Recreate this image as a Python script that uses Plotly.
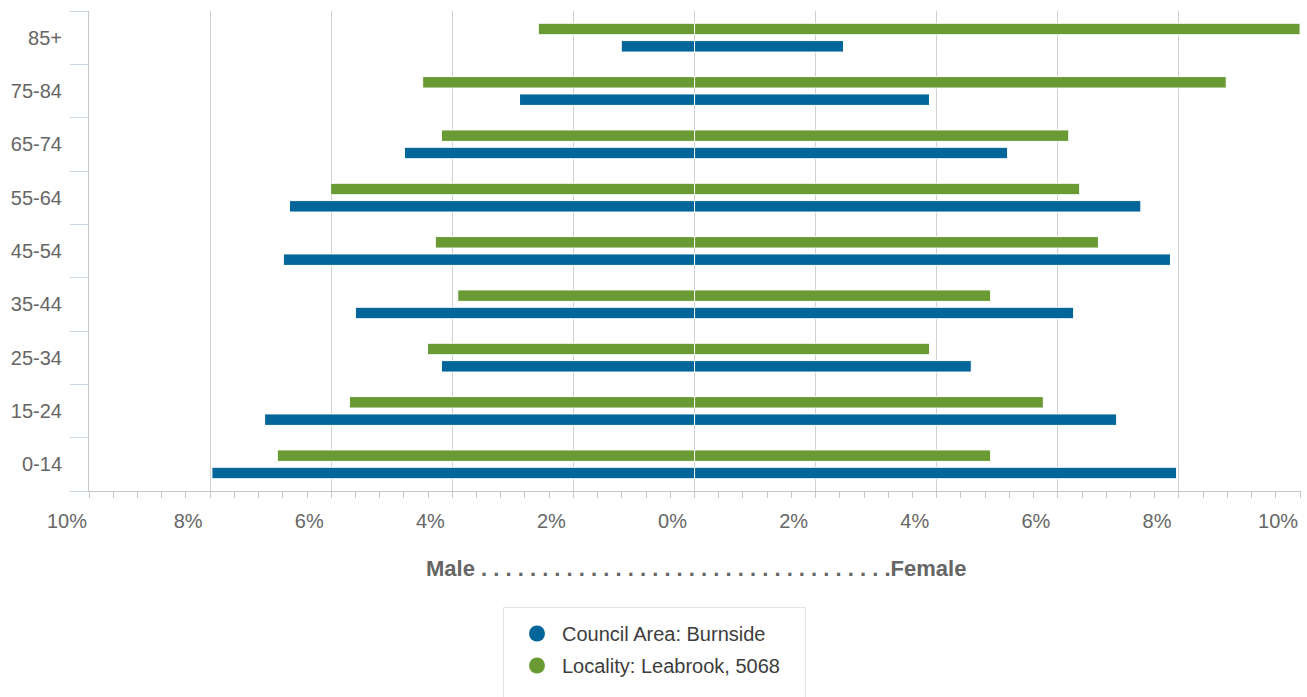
import plotly.graph_objects as go

# ---- data (percent of population) ----
age_groups = ["0-14", "15-24", "25-34", "35-44", "45-54", "55-64", "65-74", "75-84", "85+"]
council_male = [7.97, 7.10, 4.18, 5.60, 6.79, 6.69, 4.79, 2.89, 1.21]
council_female = [7.96, 6.97, 4.57, 6.26, 7.86, 7.37, 5.17, 3.88, 2.46]
locality_male = [6.89, 5.70, 4.41, 3.91, 4.28, 6.01, 4.18, 4.49, 2.58]
locality_female = [4.89, 5.76, 3.88, 4.89, 6.67, 6.36, 6.18, 8.78, 10.0]
series_names = ["Council Area: Burnside", "Locality: Leabrook, 5068"]
tick_values = [-10, -8, -6, -4, -2, 0, 2, 4, 6, 8, 10]
tick_labels = ["10%", "8%", "6%", "4%", "2%", "0%", "2%", "4%", "6%", "8%", "10%"]
axis_title = "Male " + ". " * 33 + ".Female"

BLUE = "#02669a"
GREEN = "#6a9a34"
FONT = "Liberation Sans, Arial, sans-serif"

W, H = 1307, 697
L, R, T, B = 89, 6, 11, 206
PW, PH = W - L - R, H - T - B


def px_to_paper_x(px):
    return (px - L) / PW


def px_to_paper_y(py):
    return (H - B - py) / PH


fig = go.Figure()

series = [
    (series_names[1], locality_male, locality_female, GREEN, 0.055),
    (series_names[0], council_male, council_female, BLUE, -0.27),
]
for name, male, female, color, off in series:
    fig.add_trace(go.Bar(
        y=age_groups, x=[-v for v in male], orientation="h", name=name,
        marker=dict(color=color, line=dict(color="white", width=1)),
        width=0.215, offset=off, showlegend=False, hoverinfo="skip",
    ))
    fig.add_trace(go.Bar(
        y=age_groups, x=female, orientation="h", name=name,
        marker=dict(color=color, line=dict(color="white", width=1)),
        width=0.215, offset=off, showlegend=False, hoverinfo="skip",
    ))

# legend entries (circle symbols)
for i, (name, color) in enumerate([(series_names[0], BLUE), (series_names[1], GREEN)]):
    fig.add_trace(go.Scatter(
        x=[None], y=[None], mode="markers", name=name, legendgroup=f"g{i}",
        marker=dict(color=color, size=16, symbol="circle"), showlegend=True,
    ))

fig.update_layout(
    width=W, height=H,
    margin=dict(l=L, r=R, t=T, b=B),
    paper_bgcolor="white", plot_bgcolor="white",
    barmode="overlay",
    font=dict(family=FONT, color="#666666", size=20),
    showlegend=True,
    legend=dict(
        x=px_to_paper_x(512), y=px_to_paper_y(614), xanchor="left", yanchor="top",
        bgcolor="rgba(0,0,0,0)", borderwidth=0, itemwidth=40,
        font=dict(family=FONT, size=20, color="#3d3d3d"),
        tracegroupgap=3, traceorder="grouped",
    ),
    xaxis=dict(
        range=[-10, 10.015],
        tickmode="array", tickvals=tick_values, ticktext=tick_labels,
        ticks="outside", ticklen=6, tickcolor="#c6c6c6", tickwidth=1,
        showline=True, linecolor="#c6c6c6", linewidth=1,
        showgrid=True, gridcolor="#d0d0d0", gridwidth=1,
        zeroline=False,
        minor=dict(tick0=-10, dtick=0.4, ticks="outside", ticklen=6,
                   tickcolor="#c6c6c6", tickwidth=1, showgrid=False),
        tickfont=dict(family=FONT, size=20, color="#666666"),
        ticklabelshift=-22, ticklabelstandoff=6,
        fixedrange=True,
    ),
    yaxis=dict(
        type="category", categoryorder="array", categoryarray=age_groups,
        range=[-0.5, 8.5],
        tickson="boundaries", ticks="outside", ticklen=18,
        tickcolor="#ccd6eb", tickwidth=1,
        showline=True, linecolor="#c6c6c6", linewidth=1,
        showgrid=False, zeroline=False,
        tickfont=dict(family=FONT, size=20, color="#666666"),
        ticklabelstandoff=22,
        fixedrange=True,
    ),
    annotations=[dict(
        text="<b>" + axis_title + "</b>", xref="paper", yref="paper",
        x=px_to_paper_x(695.5), y=px_to_paper_y(568), xanchor="center", yanchor="middle",
        showarrow=False, font=dict(family=FONT, size=22, color="#666666"),
    )],
    shapes=[dict(
        type="rect", xref="paper", yref="paper",
        x0=px_to_paper_x(503.5), x1=px_to_paper_x(805.5),
        y0=px_to_paper_y(607.5), y1=px_to_paper_y(730),
        line=dict(color="#e3e3e3", width=1), fillcolor="rgba(0,0,0,0)", layer="above",
    )],
)

fig.write_html(
    "out.html",
    config={"displayModeBar": False},
    post_script="document.body.style.margin='0px';document.body.style.overflow='hidden';",
)
